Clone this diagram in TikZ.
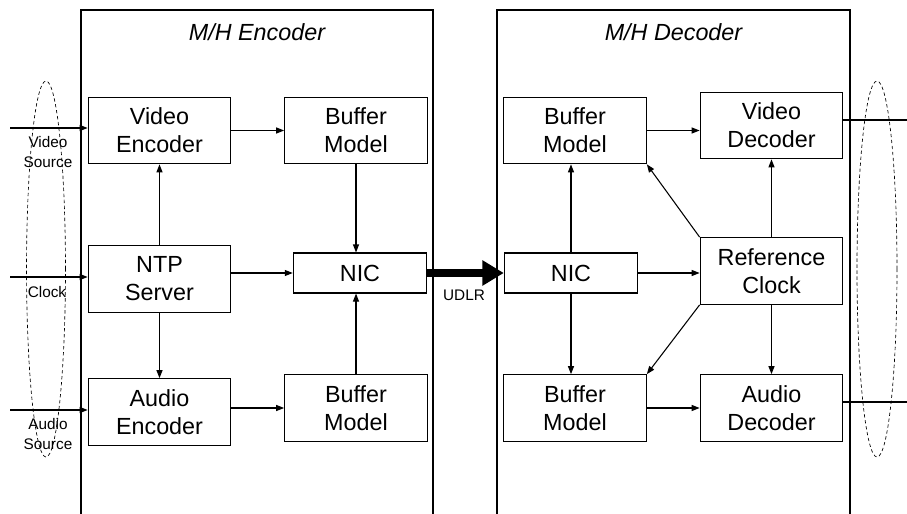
\documentclass[tikz,border=0pt]{standalone}
\usepackage{fontspec}
\setmainfont{Liberation Sans}
\usetikzlibrary{arrows.meta}
\tikzstyle{block} = [rectangle, draw=black, line width=0.8pt, minimum width=107pt, minimum height=50pt, inner sep=0pt, align=center, font=\fontsize{17.5}{21}\selectfont]
\tikzstyle{nic} = [block, minimum width=100pt, minimum height=30pt]
\tikzstyle{arrow} = [line width=0.8pt, -{Triangle[length=6pt,width=4.5pt]}]
\tikzstyle{small} = [align=center, font=\fontsize{11.5}{14.3}\selectfont]
\tikzstyle{group} = [line width=0.5pt, dash pattern=on 2.5pt off 2pt]

\begin{document}
\begin{tikzpicture}[x=0.75pt,y=-0.75pt]
\useasboundingbox (0,0) rectangle (907,514);
% frames
\draw[line width=0.8pt] (81,514) -- (81,10) -- (433,10) -- (433,514);
\draw[line width=0.8pt] (497,514) -- (497,10) -- (850,10) -- (850,514);
\node[font=\fontsize{17.5}{21}\selectfont\itshape] (enctitle) at (257,32) {M/H Encoder};
\node[font=\fontsize{17.5}{21}\selectfont\itshape] (dectitle) at (673.5,32) {M/H Decoder};
% encoder
\node[block] (venc) at (159.5,130.5) {Video\\Encoder};
\node[block] (ebufv) at (356,130.5) {Buffer\\Model};
\node[block] (ntp) at (159.5,279) {NTP\\Server};
\node[nic] (enic) at (360,273) {NIC};
\node[block] (aenc) at (159.5,412) {Audio\\Encoder};
\node[block] (ebufa) at (356,408) {Buffer\\Model};
% decoder
\node[block] (dbufv) at (575,130.5) {Buffer\\Model};
\node[block] (vdec) at (771.5,125.5) {Video\\Decoder};
\node[nic] (dnic) at (571,273) {NIC};
\node[block] (refclk) at (771.5,271) {Reference\\Clock};
\node[block] (dbufa) at (575,408) {Buffer\\Model};
\node[block] (adec) at (771.5,408) {Audio\\Decoder};
% sources and sinks
\coordinate (vin) at (10,128);
\coordinate (cin) at (10,277);
\coordinate (ain) at (10,410);
\coordinate (vout) at (907,120);
\coordinate (aout) at (907,402);
\node[small] (vsrc) at (48,152) {Video\\Source};
\node[small] (clk) at (47,292) {Clock};
\node[small] (asrc) at (48,434) {Audio\\Source};
\node[small] (udlr) at (464,295) {UDLR};
\draw[group] (46,269) ellipse [x radius=14.6pt, y radius=141pt];
\draw[group] (877,269) ellipse [x radius=15pt, y radius=141pt];
\draw[arrow] (vin) -- (vin -| venc.west);
\draw[arrow] (cin) -- (cin -| ntp.west);
\draw[arrow] (ain) -- (ain -| aenc.west);
\draw[line width=0.8pt] (vout -| vdec.east) -- (vout);
\draw[line width=0.8pt] (aout -| adec.east) -- (aout);
% encoder links
\draw[arrow] (venc.east) -- (ebufv.west);
\draw[arrow] (ntp.north) -- (venc.south);
\draw[arrow] (ntp.south) -- (aenc.north);
\draw[arrow] (ntp.east |- enic) -- (enic.west);
\draw[arrow] (ebufa.west -| aenc.east) -- (ebufa.west);
\draw[arrow] (ebufv.south) -- (ebufv.south |- enic.north);
\draw[arrow] (ebufa.north) -- (ebufa.north |- enic.south);
% UDLR link
\draw[line width=6pt, -{Triangle[length=16pt,width=18pt]}] (enic.east) -- (dnic.west);
% decoder links
\draw[arrow] (dnic.north) -- (dnic.north |- dbufv.south);
\draw[arrow] (dnic.south) -- (dnic.south |- dbufa.north);
\draw[arrow] (dnic.east) -- (dnic.east -| refclk.west);
\draw[arrow] (dbufv.east) -- (dbufv.east -| vdec.west);
\draw[arrow] (dbufa.east) -- (adec.west);
\draw[arrow] (refclk.north) -- (vdec.south);
\draw[arrow] (refclk.south) -- (adec.north);
\draw[arrow] (refclk.north west) -- (dbufv.south east);
\draw[arrow] (refclk.south west) -- (dbufa.north east);
\end{tikzpicture}
\end{document}
